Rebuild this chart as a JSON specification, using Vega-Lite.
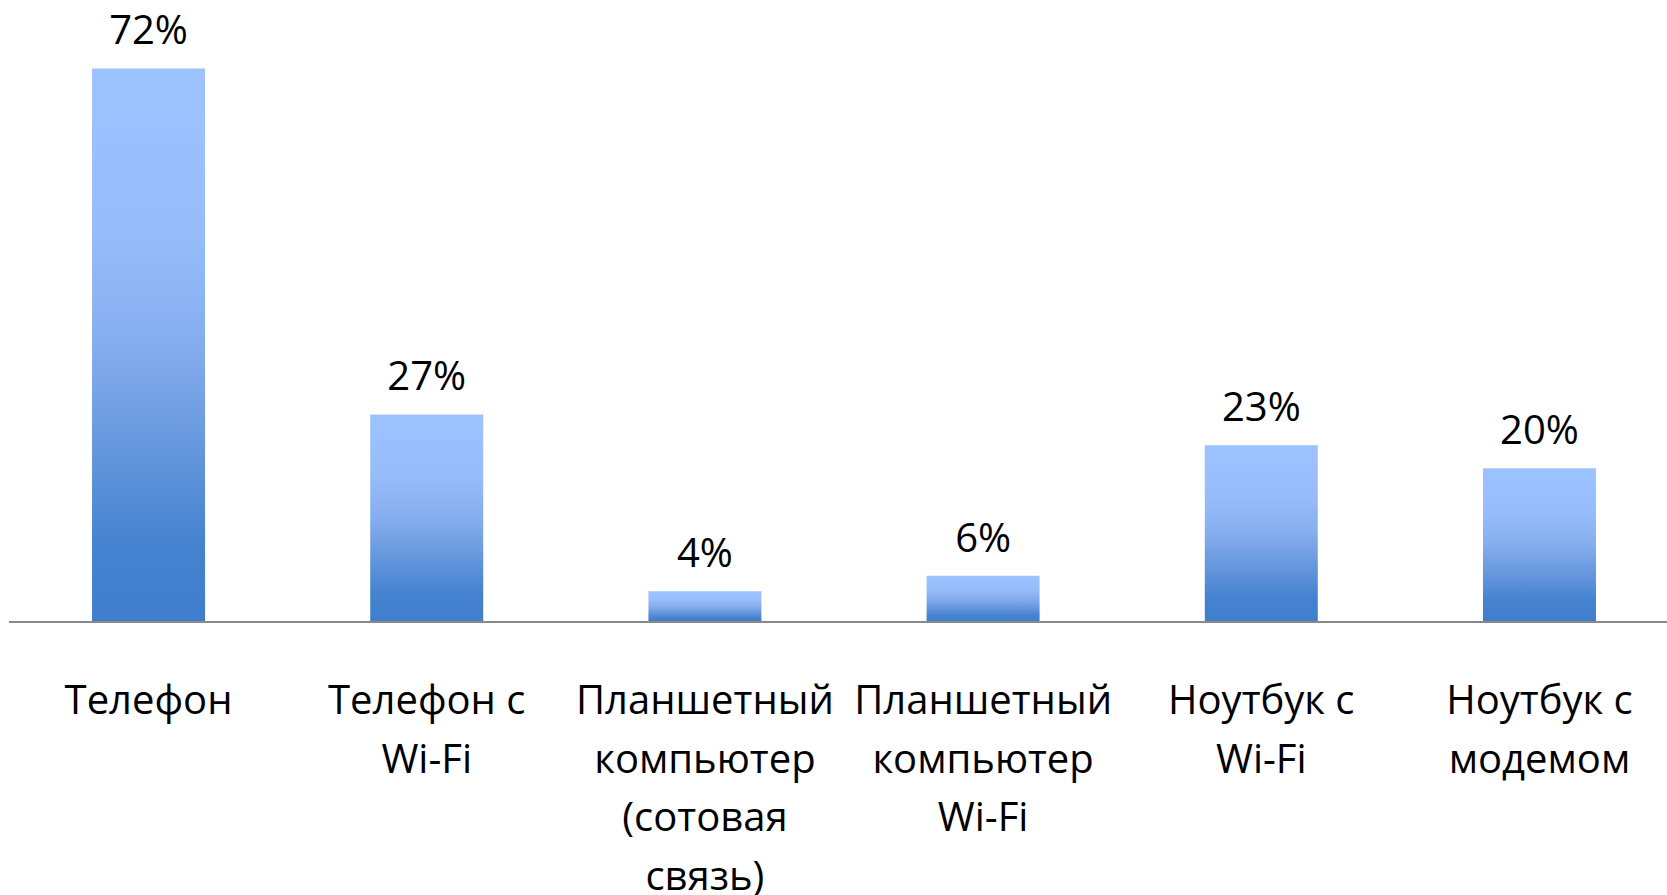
{
  "$schema": "https://vega.github.io/schema/vega-lite/v6.json",
  "width": 1657.5,
  "height": 622,
  "padding": {"left": 9.5, "top": 0, "right": 0, "bottom": 273},
  "autosize": {"type": "none"},
  "background": "white",
  "config": {"view": {"stroke": null}},
  "data": {
    "values": [
      {"cat": "Телефон", "value": 0.72},
      {"cat": "Телефон с\nWi-Fi", "value": 0.27},
      {"cat": "Планшетный\nкомпьютер\n(сотовая\nсвязь)", "value": 0.04},
      {"cat": "Планшетный\nкомпьютер\nWi-Fi", "value": 0.06},
      {"cat": "Ноутбук с\nWi-Fi", "value": 0.23},
      {"cat": "Ноутбук с\nмодемом", "value": 0.20}
    ]
  },
  "layer": [
    {
      "mark": {
        "type": "bar",
        "color": {
          "gradient": "linear",
          "x1": 0, "y1": 0, "x2": 0, "y2": 1,
          "stops": [
            {"offset": 0, "color": "#9DC3FF"},
            {"offset": 0.3, "color": "#96BCFA"},
            {"offset": 0.5, "color": "#86ADEE"},
            {"offset": 0.68, "color": "#6798DD"},
            {"offset": 0.86, "color": "#4583D0"},
            {"offset": 1, "color": "#3F7ECC"}
          ]
        }
      },
      "encoding": {
        "x": {
          "field": "cat",
          "type": "nominal",
          "sort": null,
          "axis": null,
          "scale": {"paddingInner": 0.5938, "paddingOuter": 0.276, "align": 0.5375}
        },
        "y": {"field": "value", "type": "quantitative", "axis": null, "scale": {"domain": [0, 0.809], "nice": false, "zero": true}}
      }
    },
    {
      "mark": {"type": "rule", "color": "#898989", "strokeWidth": 2},
      "encoding": {"y": {"datum": 0, "type": "quantitative"}}
    },
    {
      "mark": {"type": "text", "font": "Open Sans", "fontSize": 40, "color": "#000000", "baseline": "alphabetic", "align": "center", "dy": -24},
      "encoding": {
        "x": {"field": "cat", "type": "nominal", "sort": null},
        "y": {"field": "value", "type": "quantitative"},
        "text": {"field": "value", "type": "quantitative", "format": ".0%"}
      }
    },
    {
      "mark": {"type": "text", "font": "Open Sans", "fontSize": 40, "color": "#000000", "baseline": "alphabetic", "align": "center", "lineBreak": "\n", "lineHeight": 58.5, "dy": 92},
      "encoding": {
        "x": {"field": "cat", "type": "nominal", "sort": null},
        "y": {"datum": 0, "type": "quantitative"},
        "text": {"field": "cat", "type": "nominal"}
      }
    }
  ]
}
